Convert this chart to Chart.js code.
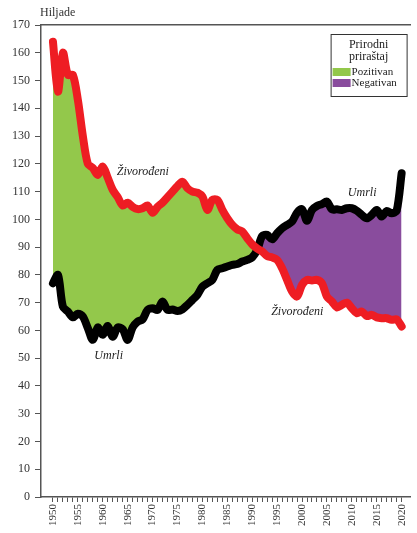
<!DOCTYPE html>
<html><head><meta charset="utf-8">
<script src="https://cdn.jsdelivr.net/npm/chart.js@4"></script>
<style>html,body{margin:0;padding:0;background:#fff}canvas{display:block}</style>
</head><body>
<canvas id="c" width="417" height="533"></canvas>
<script>
const years = [1950,1951,1952,1953,1954,1955,1956,1957,1958,1959,
  1960,1961,1962,1963,1964,1965,1966,1967,1968,1969,
  1970,1971,1972,1973,1974,1975,1976,1977,1978,1979,
  1980,1981,1982,1983,1984,1985,1986,1987,1988,1989,
  1990,1991,1992,1993,1994,1995,1996,1997,1998,1999,
  2000,2001,2002,2003,2004,2005,2006,2007,2008,2009,
  2010,2011,2012,2013,2014,2015,2016,2017,2018,2019,2020];
const births = [164,146,160,152,152,143,130,120,118.5,116,
  119,115,110.6,108,105,106,104.5,103.7,104,105,
  102.4,104.5,106,108,110,112,113.5,111.2,110,109.6,
  108.2,103.4,107,107,103.4,100.4,98,96.4,95.6,93.2,
  91,89.5,88.4,86.8,86.3,85.4,82.4,78.2,74,72.2,
  76.4,78.2,78,78.2,77,72.2,70.4,68.3,69.2,70,
  68,66.2,66.8,65.2,65.6,64.7,64.4,64.4,63.8,64,61.4];
const deaths = [77,80,68.5,66.8,64.7,66,65,60.8,56.6,61.1,
  58.4,61.6,57.7,61.1,60.4,56.6,61.1,63.2,64,67.4,
  68,67.4,70.4,67.4,67.5,67,67.6,69.2,71,72.8,
  75.8,77,78.2,81.8,82.4,83,83.6,83.9,84.8,85.4,
  86.3,89,94,94.4,92.8,95,96.8,98,99.2,102.4,
  103.6,99.5,103.4,104.8,105.5,106.4,103.6,103.6,103.4,104,
  104,103.1,101.6,100.4,101.6,103.4,101,103,102.2,103.1,116.6];
const xTickLabels = ['1950','1955','1960','1965','1970','1975','1980','1985','1990','1995','2000','2005','2010','2015','2020'];
const seriesNames = ['Živorođeni','Umrli'];
const legendTitle = ['Prirodni','priraštaj'];
const legendItems = ['Pozitivan','Negativan'];
const unitLabel = 'Hiljade';

const GREEN = '#93c84b', PURPLE = '#894c9d', RED = '#ee1d23', AXIS = '#555';
const SERIF = '"Liberation Serif", "DejaVu Serif", serif';

const overlay = {
  id: 'overlay',
  afterDraw(chart) {
    const {ctx, chartArea: ca, scales: {x, y}} = chart;
    ctx.save();
    ctx.fillStyle = '#333';
    ctx.font = '12px ' + SERIF;
    ctx.textAlign = 'left';
    ctx.textBaseline = 'middle';
    ctx.fillText(unitLabel, ca.left - 1, ca.top - 12);

    ctx.font = 'italic 12px ' + SERIF;
    ctx.fillStyle = '#222';
    const notes = [[seriesNames[0], 1962.8, 117], [seriesNames[0], 1993.8, 66.6],
                   [seriesNames[1], 2009.2, 109.5], [seriesNames[1], 1958.3, 50.8]];
    notes.forEach(([t, xv, yv]) => ctx.fillText(t, x.getPixelForValue(xv), y.getPixelForValue(yv)));

    // legend box
    const L = ca.right - 80, T = ca.top + 9, W = 76, H = 62;
    ctx.fillStyle = '#fff';
    ctx.fillRect(L, T, W, H);
    ctx.strokeStyle = '#333';
    ctx.lineWidth = 1;
    ctx.strokeRect(L + 0.5, T + 0.5, W, H);
    ctx.fillStyle = '#222';
    ctx.font = '12px ' + SERIF;
    ctx.textAlign = 'center';
    ctx.fillText(legendTitle[0], L + 38, T + 11);
    ctx.fillText(legendTitle[1], L + 38, T + 23);
    ctx.textAlign = 'left';
    ctx.font = '11px ' + SERIF;
    [[GREEN, legendItems[0]], [PURPLE, legendItems[1]]].forEach(([c, t], i) => {
      const yy = T + 34 + i * 11;
      ctx.fillStyle = c;
      ctx.fillRect(L + 2, yy, 18, 8);
      ctx.fillStyle = '#222';
      ctx.fillText(t, L + 21, yy + 4);
    });
    ctx.restore();
  }
};

new Chart(document.getElementById('c'), {
  type: 'line',
  data: {
    datasets: [
      {label: seriesNames[0], data: years.map((v, i) => ({x: v, y: births[i]})),
       borderColor: RED, borderWidth: 8, pointRadius: 0, tension: 0.3,
       borderJoinStyle: 'round', borderCapStyle: 'round',
       fill: {target: 1, above: GREEN, below: PURPLE}},
      {label: seriesNames[1], data: years.map((v, i) => ({x: v, y: deaths[i]})),
       borderColor: '#000', borderWidth: 8, pointRadius: 0, tension: 0.3,
       borderJoinStyle: 'round', borderCapStyle: 'round', fill: false}
    ]
  },
  options: {
    responsive: false,
    animation: false,
    devicePixelRatio: 1,
    layout: {padding: {top: 25, right: 0, left: 0, bottom: 0}},
    plugins: {
      legend: {display: false},
      tooltip: {enabled: false},
      filler: {drawTime: 'beforeDatasetsDraw'}
    },
    scales: {
      x: {
        type: 'linear', position: 'bottom', min: 1947.6, max: 2021.8,
        afterFit: s => { s.height = 36; },
        afterBuildTicks: s => { s.ticks = years.map(v => ({value: v})); },
        ticks: {
          autoSkip: false, minRotation: 90, maxRotation: 90, padding: 2,
          color: '#333', font: {family: SERIF, size: 11},
          callback: v => { const s = String(v); return xTickLabels.includes(s) ? s : ''; }
        },
        grid: {drawOnChartArea: false, drawTicks: true, tickLength: 5, color: AXIS},
        border: {display: true, color: AXIS, width: 1.5}
      },
      xTop: {
        type: 'linear', position: 'top', min: 1947.6, max: 2021.8,
        afterFit: s => { s.height = 0; },
        ticks: {display: false},
        grid: {display: false, drawTicks: false},
        border: {display: true, color: AXIS, width: 1.5}
      },
      y: {
        min: 0, max: 170,
        afterFit: s => { s.width = 41; },
        ticks: {stepSize: 10, padding: 5, color: '#333', font: {family: SERIF, size: 12}},
        grid: {drawOnChartArea: false, drawTicks: true, tickLength: 6, color: AXIS},
        border: {display: true, color: AXIS, width: 1.5}
      }
    }
  },
  plugins: [overlay]
});
</script>
</body></html>
